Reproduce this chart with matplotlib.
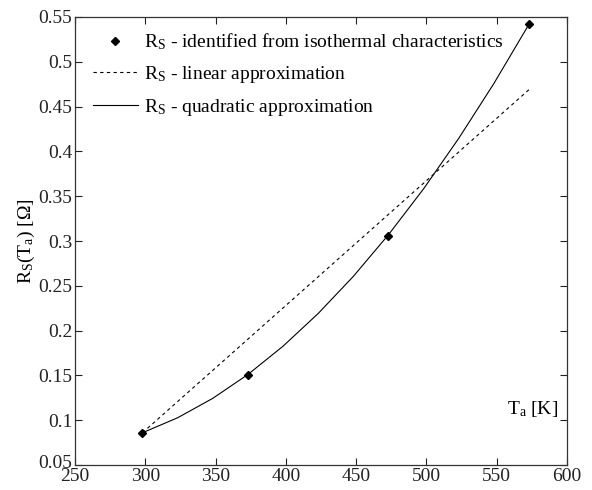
import matplotlib
matplotlib.use("Agg")
import matplotlib.pyplot as plt
import matplotlib.transforms as mtransforms
import numpy as np

# Identified points
T_points = [298, 373, 473, 573]
R_points = [0.086, 0.151, 0.306, 0.542]

# Linear approximation (endpoints)
T_lin = [298, 573]
R_lin = [0.086, 0.469]

# Quadratic approximation (curve samples)
T_quad = [298, 323, 348, 373, 398, 423, 448, 473, 498, 523, 548, 573]
R_quad = [0.086, 0.1027, 0.1244, 0.151, 0.1826, 0.2191, 0.2605, 0.307,
          0.3583, 0.4146, 0.4758, 0.542]

x_ticks = [250, 300, 350, 400, 450, 500, 550, 600]
y_ticks = [0.05, 0.1, 0.15, 0.2, 0.25, 0.3, 0.35, 0.4, 0.45, 0.5, 0.55]

plt.rcParams['font.family'] = ['Liberation Serif', 'DejaVu Serif']
plt.rcParams['mathtext.fontset'] = 'custom'
plt.rcParams['mathtext.rm'] = 'Liberation Serif'
plt.rcParams['mathtext.it'] = 'Liberation Serif:italic'

FS = 14

fig = plt.figure(figsize=(5.92, 4.9), dpi=100)
ax = fig.add_axes([75/592, 25/490, 492/592, 448/490])

ax.plot(T_points, R_points, linestyle='none', marker='D', markersize=4,
        color='black', label=r'R$_\mathrm{S}$ - identified from isothermal characteristics')
ax.plot(T_lin, R_lin, linestyle=(0, (3, 3)), color='black', linewidth=0.8,
        label=r'R$_\mathrm{S}$ - linear approximation')
ax.plot(T_quad, R_quad, linestyle='-', color='black', linewidth=0.8,
        label=r'R$_\mathrm{S}$ - quadratic approximation')

ax.set_xlim(250, 600)
ax.set_ylim(0.05, 0.55)
ax.set_xticks(x_ticks)
ax.set_xticklabels([str(v) for v in x_ticks])
ax.set_yticks(y_ticks)
ax.set_yticklabels(['0.05', '0.1', '0.15', '0.2', '0.25', '0.3', '0.35', '0.4',
                    '0.45', '0.5', '0.55'])
ax.tick_params(direction='in', top=True, right=True, length=5, width=0.8,
               labelsize=FS, colors='#222222', pad=2)
for s in ax.spines.values():
    s.set_linewidth(0.9)
    s.set_color('#333333')

# nudge the lowest y tick label up slightly, as in the reference
lbl = ax.get_yticklabels()[0]
lbl.set_transform(lbl.get_transform() +
                  mtransforms.ScaledTranslation(0, 4/100, fig.dpi_scale_trans))

ax.set_ylabel(r'R$_\mathrm{S}$(T$_\mathrm{a}$) [$\Omega$]', fontsize=FS, labelpad=1)
ax.text(0.93, 0.125, r'T$_\mathrm{a}$ [K]', transform=ax.transAxes,
        fontsize=FS, ha='center', va='center')

leg = ax.legend(loc='upper left', bbox_to_anchor=(0.02, 0.985), frameon=False,
                fontsize=FS, handlelength=2.35, handletextpad=0.3,
                labelspacing=0.6, borderaxespad=0.0)

fig.savefig('out.png', dpi=100)
